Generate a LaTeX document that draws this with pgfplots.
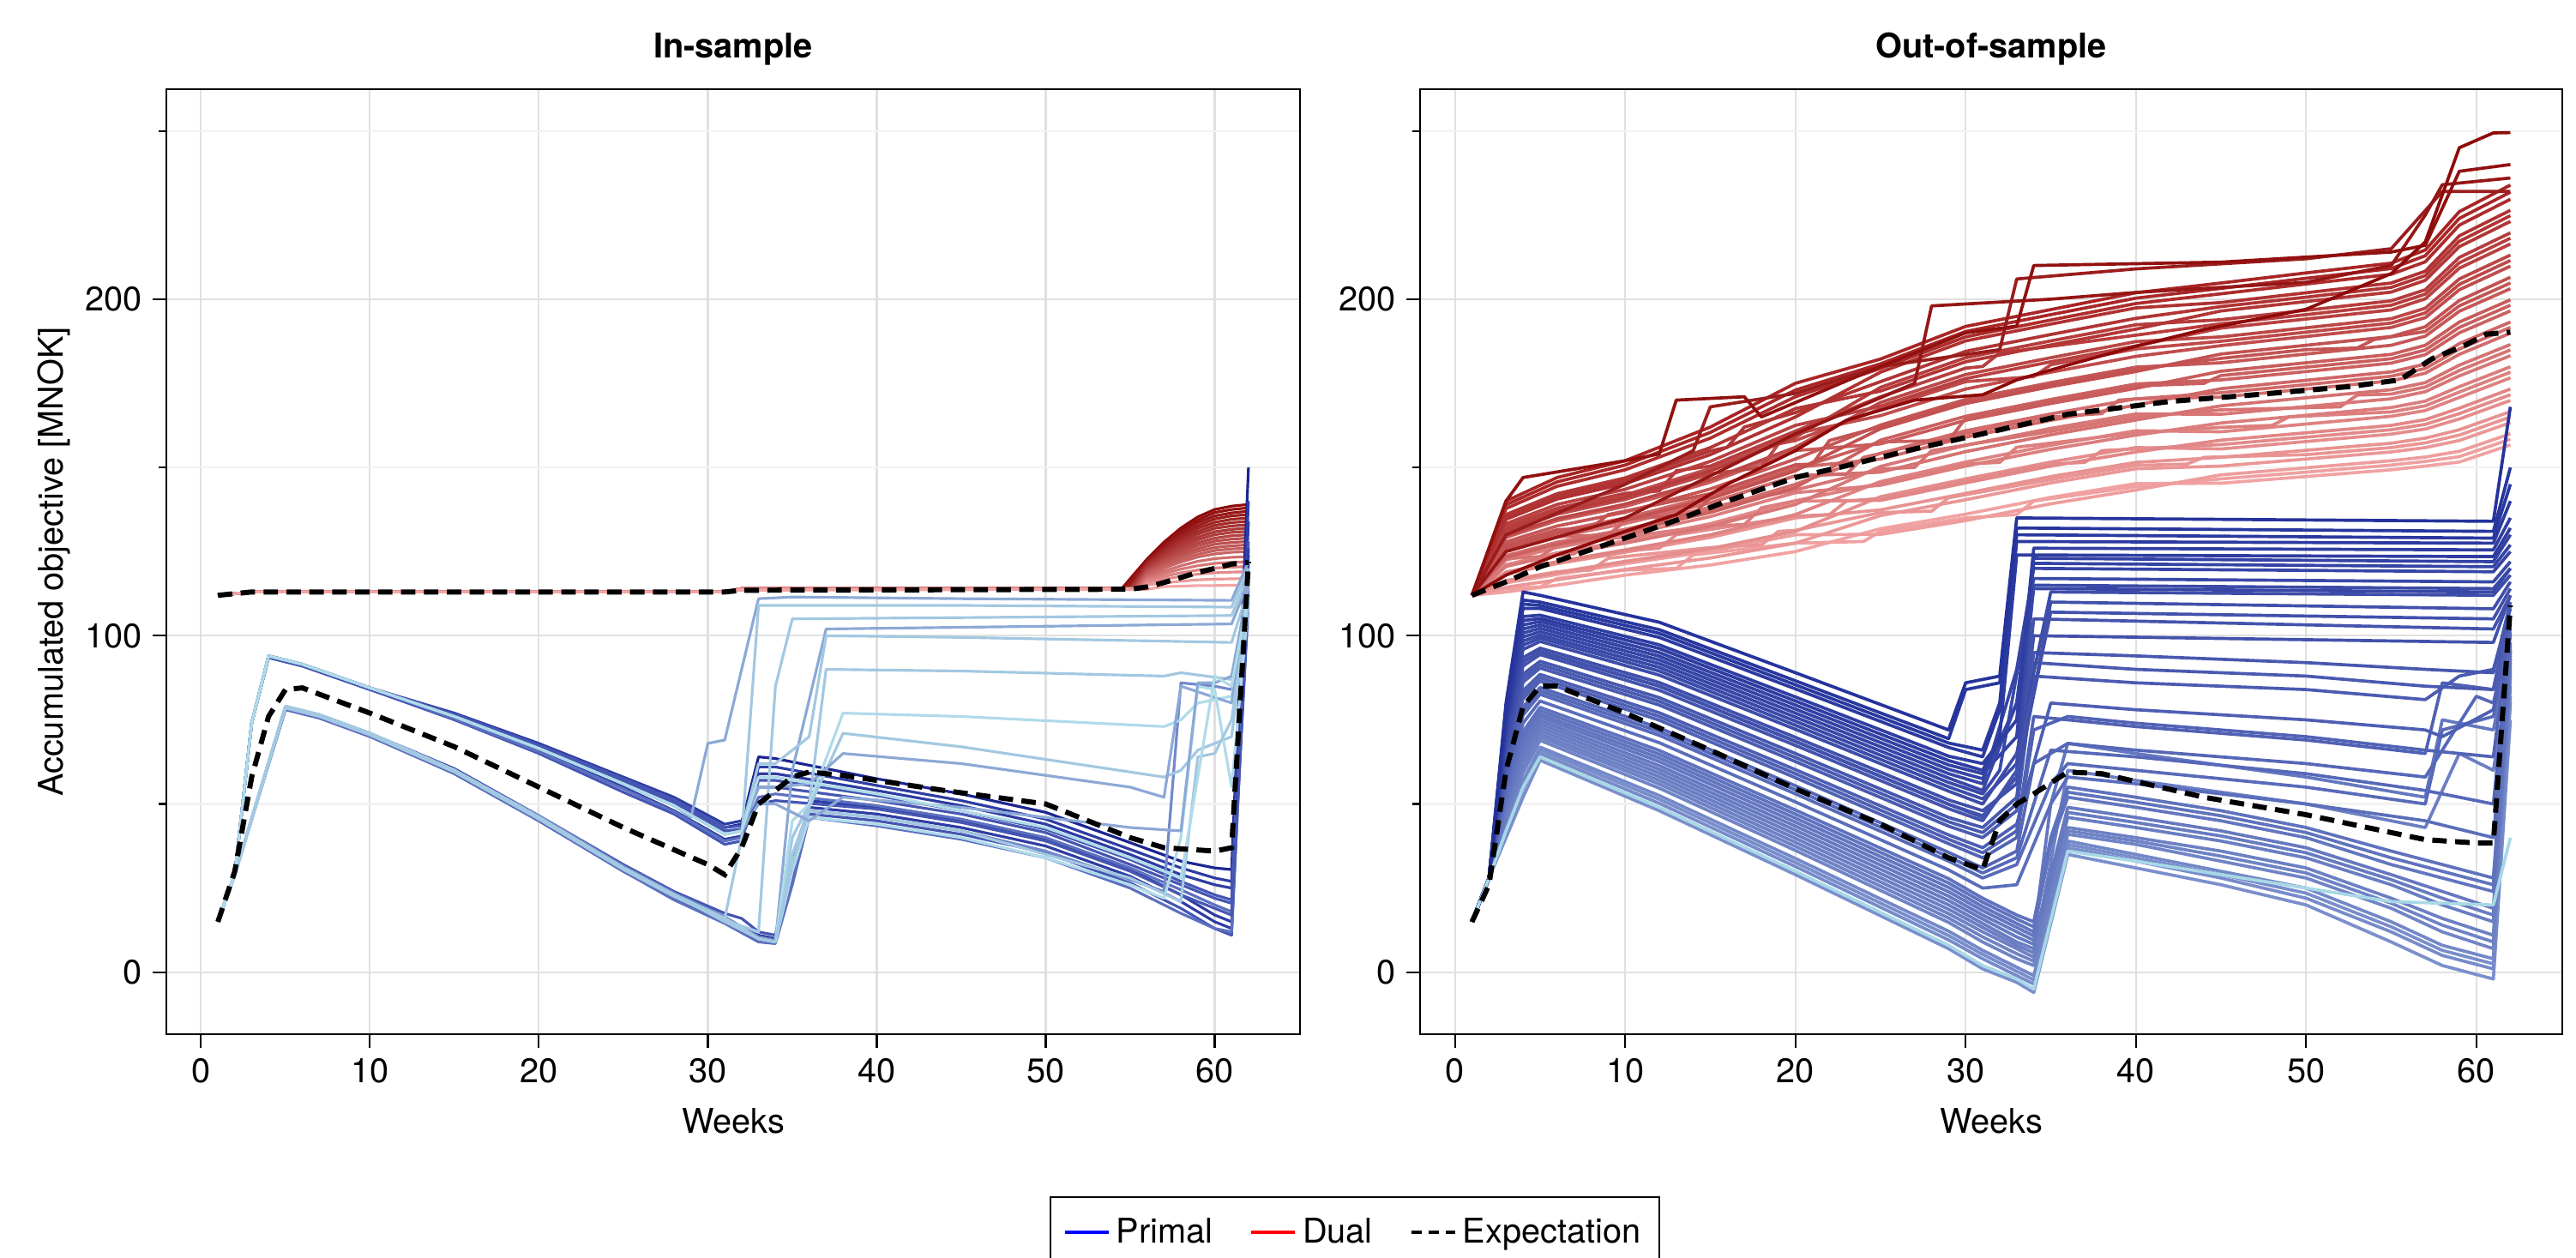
\documentclass[border=0pt]{standalone}
\usepackage{fontspec}
\setmainfont{TeX Gyre Heros}
\usepackage{pgfplots}
\pgfplotsset{compat=1.18}

\newcommand\fs{\fontsize{11.3}{13.5}\selectfont}

\definecolor{gridmaj}{HTML}{E0E0E0}
\definecolor{gridmin}{HTML}{F2F2F2}
% primal shades, dark to light
\definecolor{pA}{HTML}{1C2590}
\definecolor{pB}{HTML}{2E3DA3}
\definecolor{pC}{HTML}{4556B3}
\definecolor{pD}{HTML}{5C70C0}
\definecolor{pE}{HTML}{7389CB}
\definecolor{pF}{HTML}{8CA9D6}
\definecolor{pG}{HTML}{A3C8E1}
\definecolor{pH}{HTML}{B0DBE9}
\definecolor{pdk}{HTML}{25339C}
\definecolor{pmd}{HTML}{7A8FCC}
\definecolor{pcy}{HTML}{A8D8E6}
% dual shades
\definecolor{rdk}{HTML}{8E0A0A}
\definecolor{rmd}{HTML}{A51E1E}
\definecolor{rlt}{HTML}{F3A5A5}
\definecolor{legblue}{HTML}{0000FF}
\definecolor{legred}{HTML}{FF0000}

\pgfplotsset{
  panel/.style={
    scale only axis,
    width=13.22cm, height=11.02cm,
    xmin=-2.05, xmax=65.05, ymin=-18.4, ymax=262.4,
    xtick={0,10,...,60},
    ytick={0,100,200},
    minor ytick={50,150,250},
    grid=both,
    major grid style={gridmaj, line width=0.6pt},
    minor grid style={gridmin, line width=0.6pt},
    tick align=outside,
    tick pos=left,
    major tick length=0.16cm,
    minor tick length=0.09cm,
    every tick/.style={black, line width=0.6pt},
    axis line style={black, line width=0.7pt},
    /pgf/number format/assume math mode=true,
    tick label style={font=\fs},
    label style={font=\fs},
    xlabel={Weeks},
    xlabel style={at={(axis description cs:0.5,-0.0915)}, anchor=center},
    title style={font=\fs\bfseries, at={(axis description cs:0.5,1)}, anchor=center, yshift=0.26cm},
  },
  pl/.style={forget plot, line width=0.9pt, line join=round},
  plr/.style={forget plot, line width=1.05pt, line join=round},
  ex/.style={forget plot, black, line width=1.7pt, dash pattern=on 4.8pt off 2.8pt},
}

\begin{document}
\begin{tikzpicture}
\path[use as bounding box] (0,0) rectangle (30.04,14.67);

% ---------------- In-sample ----------------
\begin{axis}[panel, at={(1.94cm,2.61cm)}, anchor=south west,
    title={In-sample},
    ylabel={Accumulated objective [MNOK]},
    ylabel style={at={(axis description cs:-0.099,0.5)}, anchor=center},
    legend image code/.code={\draw[#1] (0cm,0cm) -- (0.51cm,0cm);},
    legend style={at={(1.0484,-0.1715)}, anchor=north, draw=black, line width=0.7pt,
        legend columns=3, font=\fs, inner xsep=0.15cm, inner ysep=0.17cm,
        /tikz/every even column/.append style={column sep=0.36cm}},
]
\addlegendimage{draw=legblue, line width=1.1pt}
\addlegendentry{Primal}
\addlegendimage{draw=legred, line width=1.1pt}
\addlegendentry{Dual}
\addlegendimage{draw=black, line width=1.1pt, dash pattern=on 3.4pt off 2.4pt}
\addlegendentry{Expectation}

% dual, dark first
\addplot[pl, draw=rdk!100!rlt] coordinates {(1,112)(3,113)(31,113)(32,114)(54.5,114)(56,122.8)(57,127.8)(58,132)(59,135.3)(60,137.5)(61,138.5)(62,139)};
\addplot[pl, draw=rdk!96!rlt] coordinates {(1,112)(3,113)(31,113)(32,114)(54.6,114)(56,122.4)(57,127.2)(58,131.3)(59,134.4)(60,136.6)(61,137.5)(62,138)};
\addplot[pl, draw=rdk!92!rlt] coordinates {(1,112)(3,113)(31,113)(32,114)(54.7,114)(56,122.1)(57,126.7)(58,130.6)(59,133.6)(60,135.6)(61,136.5)(62,137)};
\addplot[pl, draw=rdk!88!rlt] coordinates {(1,112)(3,113)(31,113)(32,114)(54.8,114)(56,121.7)(57,126.1)(58,129.8)(59,132.7)(60,134.7)(61,135.6)(62,136)};
\addplot[pl, draw=rdk!83!rlt] coordinates {(1,112)(3,113)(31,113)(32,114)(55,114)(56,121.4)(57,125.6)(58,129.1)(59,131.9)(60,133.7)(61,134.6)(62,135)};
\addplot[pl, draw=rdk!79!rlt] coordinates {(1,112)(3,113)(31,113)(32,114)(55,114)(56,121)(57,125)(58,128.4)(59,131)(60,132.8)(61,133.6)(62,134)};
\addplot[pl, draw=rdk!75!rlt] coordinates {(1,112)(3,113)(31,113)(32,114)(55,114)(56,120.7)(57,124.5)(58,127.7)(59,130.2)(60,131.9)(61,132.6)(62,133)};
\addplot[pl, draw=rdk!71!rlt] coordinates {(1,112)(3,113)(31,113)(32,114)(55.1,114)(56,120.3)(57,123.9)(58,127)(59,129.3)(60,130.9)(61,131.6)(62,132)};
\addplot[pl, draw=rdk!67!rlt] coordinates {(1,112)(3,113)(31,113)(32,114)(55.1,114)(56,120)(57,123.4)(58,126.2)(59,128.5)(60,130)(61,130.7)(62,131)};
\addplot[pl, draw=rdk!63!rlt] coordinates {(1,112)(3,113)(31,113)(32,114)(55.2,114)(56,119.6)(57,122.8)(58,125.5)(59,127.6)(60,129)(61,129.7)(62,130)};
\addplot[pl, draw=rdk!58!rlt] coordinates {(1,112)(3,113)(31,113)(32,114)(55.2,114)(56,119.3)(57,122.3)(58,124.8)(59,126.8)(60,128.1)(61,128.7)(62,129)};
\addplot[pl, draw=rdk!54!rlt] coordinates {(1,112)(3,113)(31,113)(32,114)(55.3,114)(56,118.9)(57,121.7)(58,124.1)(59,125.9)(60,127.2)(61,127.7)(62,128)};
\addplot[pl, draw=rdk!50!rlt] coordinates {(1,112)(3,113)(31,113)(32,114)(55.3,114)(56,118.6)(57,121.2)(58,123.4)(59,125.1)(60,126.2)(61,126.7)(62,127)};
\addplot[pl, draw=rdk!46!rlt] coordinates {(1,112)(3,113)(31,113)(32,114)(55.4,114)(56,118.2)(57,120.6)(58,122.6)(59,124.2)(60,125.3)(61,125.8)(62,126)};
\addplot[pl, draw=rdk!42!rlt] coordinates {(1,112)(3,113)(31,113)(32,114)(55.4,114)(56,117.9)(57,120.1)(58,121.9)(59,123.4)(60,124.3)(61,124.8)(62,125)};
\addplot[pl, draw=rdk!35!rlt] coordinates {(1,112)(3,113)(31,113)(32,114)(55.5,114)(56,117.3)(57,119.2)(58,120.8)(59,122.1)(60,122.9)(61,123.3)(62,123.5)};
\addplot[pl, draw=rdk!29!rlt] coordinates {(1,112)(3,113)(31,113)(32,114)(55.5,114)(56,116.8)(57,118.4)(58,119.8)(59,120.8)(60,121.5)(61,121.8)(62,122)};
\addplot[pl, draw=rdk!23!rlt] coordinates {(1,112)(3,113)(31,113)(32,114)(55.6,114)(56,116.3)(57,117.6)(58,118.7)(59,119.5)(60,120.1)(61,120.4)(62,120.5)};
\addplot[pl, draw=rdk!17!rlt] coordinates {(1,112)(3,113)(31,113)(32,114)(55.6,114)(56,115.8)(57,116.8)(58,117.6)(59,118.3)(60,118.7)(61,118.9)(62,119)};
\addplot[pl, draw=rdk!8!rlt] coordinates {(1,112)(3,113)(31,113)(32,114)(55.8,114)(56,115.1)(57,115.7)(58,116.2)(59,116.6)(60,116.8)(61,116.9)(62,117)};
\addplot[pl, draw=rdk!0!rlt] coordinates {(1,112)(3,113)(31,113)(32,113.5)(56,113.8)(57,114.6)(58,114.7)(59,114.9)(60,114.9)(61,115)(62,115)};

% primal, dark mass first
\addplot[pl, draw=pA] coordinates {(1,15)(2,29)(3,74)(4,94)(6,91.5)(8,88)(10,84.5)(15,76.5)(20,67.5)(25,57.5)(28,51)(31,43)(32,44)(33,64)(34,63.5)(40,57.5)(45,53)(50,47.5)(55,38.5)(58,33)(60,31)(61,30.5)(62,150)};
\addplot[pl, draw=pB] coordinates {(1,15)(2,29)(3,74)(4,93.5)(6,91)(8,87.5)(10,84)(15,75.5)(20,66)(25,55)(28,48)(31,39.5)(32,40.5)(33,61)(34,61)(40,55.5)(45,51)(50,45.5)(55,36.5)(58,31)(60,28)(61,27)(62,140)};
\addplot[pl, draw=pB] coordinates {(1,15)(2,29)(3,74)(4,94)(6,91.5)(8,88)(10,84.5)(15,77)(20,68)(25,58)(28,52)(31,44)(32,45)(33,59)(34,59)(40,54)(45,49.5)(50,44)(55,35)(58,29)(60,26)(61,25)(62,134)};
\addplot[pl, draw=pC] coordinates {(1,15)(2,29)(3,74)(4,93.5)(6,91)(8,87.5)(10,84)(15,75)(20,65)(25,53.5)(28,47)(31,38)(32,39)(33,57)(34,57)(40,52.5)(45,48)(50,42.5)(55,33.5)(58,27)(60,23)(61,21.5)(62,128)};
\addplot[pl, draw=pC] coordinates {(1,15)(2,29)(3,74)(4,94)(6,91.5)(8,88)(10,84.5)(15,76.3)(20,67)(25,56.8)(28,50.4)(31,42)(32,42.5)(33,55)(34,55)(40,51)(45,47)(50,41.5)(55,32)(58,26)(60,22)(61,20.5)(62,124)};
\addplot[pl, draw=pB] coordinates {(1,15)(2,29)(5,79)(7,76.5)(10,71)(15,60)(20,46)(25,31)(28,23)(31,16)(33,10)(34,9)(35,30)(36,51)(40,49)(45,45)(50,39.5)(55,30.5)(58,23)(60,17)(61,15)(62,126)};
\addplot[pl, draw=pB] coordinates {(1,15)(2,29)(5,78.5)(7,76)(10,70.5)(15,59)(20,45)(25,30)(28,22)(31,15)(33,11)(34,10)(35,28)(36,49)(40,47)(45,43)(50,37.5)(55,28.5)(58,21)(60,15)(61,13)(62,122)};
\addplot[pl, draw=pC] coordinates {(1,15)(2,29)(5,79)(7,76.5)(10,71)(15,60.5)(20,46.5)(25,32)(28,24)(31,17.5)(32,16)(33,12)(34,11)(35,34)(36,47)(40,45)(45,41)(50,35.5)(55,26.5)(58,19)(60,13)(61,11)(62,118)};
\addplot[pl, draw=pD] coordinates {(1,15)(2,29)(5,78)(7,75.5)(10,70)(15,59)(20,45)(25,30)(28,21.5)(31,14.5)(33,9)(34,8.5)(35,26)(36,46)(40,43.5)(45,39.5)(50,34)(55,25)(58,17.5)(60,13)(61,12)(62,114)};
\addplot[pl, draw=pD] coordinates {(1,15)(2,29)(3,74)(4,94)(6,91.5)(8,88)(10,84.5)(15,75.3)(20,65.5)(25,54.5)(28,47.7)(31,39)(32,40)(33,52)(34,53)(40,49.5)(45,45.5)(50,40)(55,31)(58,24.5)(60,20)(61,18)(62,112)};
\addplot[pl, draw=pC] coordinates {(1,15)(2,29)(3,74)(4,94)(6,91.5)(8,88)(10,84.5)(15,76.7)(20,67.5)(25,57.5)(28,51.3)(31,43)(32,43.5)(33,50)(34,51)(40,48.5)(45,44.5)(50,39)(55,30)(58,23)(60,19)(61,17)(62,110)};
% primal, light lines on top
\addplot[pl, draw=pE] coordinates {(1,15)(2,29)(5,79)(7,76.5)(10,71)(15,60)(20,46.5)(25,31.5)(28,23.5)(31,16.5)(33,10.5)(34,9.5)(35,30)(36,48)(40,46)(45,42)(50,36)(55,27.5)(57,24)(58,86)(60,85)(61,84)(62,112)};
\addplot[pl, draw=pF] coordinates {(1,15)(2,29)(3,74)(4,94)(6,91.5)(8,88)(10,84.5)(15,76)(20,66.5)(25,56)(28,49.5)(29,46)(30,68)(31,69)(33,111)(35,111.5)(45,111)(61,110.5)(62,122)};
\addplot[pl, draw=pG] coordinates {(1,15)(2,29)(5,79)(7,76.5)(10,71)(15,60)(20,46)(25,31)(28,23)(31,16)(32,40)(33,109)(45,109)(61,108.5)(62,120)};
\addplot[pl, draw=pG] coordinates {(1,15)(2,29)(5,78.5)(7,76)(10,70.5)(15,59.5)(20,45.5)(25,30.5)(28,22.5)(31,15.5)(33,12)(34,85)(35,105)(61,106)(62,118)};
\addplot[pl, draw=pF] coordinates {(1,15)(2,29)(5,79)(7,76.5)(10,71)(15,60)(20,46)(25,31)(28,23)(31,16)(33,10)(34,9)(35,60)(37,102)(61,103.5)(62,116)};
\addplot[pl, draw=pG] coordinates {(1,15)(2,29)(3,74)(4,94)(6,91.5)(8,88)(10,84.5)(15,76)(20,66.5)(25,56)(28,49.5)(31,41)(32,42)(33,62)(34,62)(36,70)(37,100)(45,99.5)(61,98)(62,114)};
\addplot[pl, draw=pG] coordinates {(1,15)(2,29)(5,79)(7,76.5)(10,71)(15,60)(20,46)(25,31)(28,23)(31,16)(33,10)(34,9)(35,40)(36,50)(37,90)(45,89.5)(57,88)(58,89)(61,87)(62,112)};
\addplot[pl, draw=pH] coordinates {(1,15)(2,29)(5,79)(7,76.5)(10,71)(15,60)(20,46)(25,31)(28,23)(31,16)(33,10)(34,9)(35,45)(36,50)(38,77)(45,76)(57,73)(58,75)(59,80)(61,82)(62,110)};
\addplot[pl, draw=pG] coordinates {(1,15)(2,29)(5,79)(7,76.5)(10,71)(15,60)(20,46)(25,31)(28,23)(31,15)(33,10)(34,9)(35,35)(36,49)(38,71)(45,67)(57,58)(58,60)(59,66)(61,70)(62,110)};
\addplot[pl, draw=pF] coordinates {(1,15)(2,29)(3,74)(4,94)(6,91.5)(8,88)(10,84.5)(15,76)(20,66.5)(25,56)(28,49.5)(31,41)(32,42)(33,55)(34,55)(36,56)(38,65)(45,62)(55,55)(57,52)(58,85)(61,80)(62,112)};
\addplot[pl, draw=pH] coordinates {(1,15)(2,29)(5,79)(7,76.5)(10,71)(15,60)(20,46)(25,31)(28,23)(31,16)(33,10)(34,9)(35,30)(36,46)(40,44)(45,40)(50,34)(55,26)(57,22)(58,40)(59,85)(60,84)(61,55)(62,110)};
\addplot[pl, draw=pG] coordinates {(1,15)(2,29)(5,79)(7,76.5)(10,71)(15,60)(20,46)(25,31)(28,23)(31,16)(33,10)(34,9)(35,32)(36,48)(40,46)(45,42)(55,28)(58,21)(59,64)(60,65)(61,75)(62,110)};
\addplot[pl, draw=pF] coordinates {(1,15)(2,29)(3,74)(4,94)(6,91.5)(8,88)(10,84.5)(15,76)(20,66.5)(25,56)(28,49.5)(31,41)(32,42)(33,50)(34,50)(36,45)(38,52)(45,49)(55,43)(58,42)(59,86)(60,86)(61,88)(62,115)};
\addplot[pl, draw=pH] coordinates {(1,15)(2,29)(3,74)(4,94)(6,91.5)(8,88)(10,84.5)(15,76)(20,66.5)(25,56)(28,49.5)(31,41)(32,42)(33,58)(34,58)(40,53)(50,43)(55,34)(58,28)(60,88)(61,85)(62,112)};

% expectations
\addplot[ex] coordinates {(1,112)(3,113)(31,113)(32,113.5)(55,113.8)(56,114.5)(57,115.8)(58,117.3)(59,118.8)(60,120)(61,121.3)(62,121.8)};
\addplot[ex] coordinates {(1,15)(2,30)(3,58)(4,76)(5,84)(6,84.5)(10,77)(15,67)(20,55)(25,43)(30,32)(31,29)(32,37)(33,50)(35,58)(36,59.5)(38,58.5)(44,54)(50,50)(55,40)(57,37)(60,36)(61,37)(62,122)};
\end{axis}

% ---------------- Out-of-sample ----------------
\begin{axis}[panel, at={(16.56cm,2.61cm)}, anchor=south west, width=13.32cm,
    title={Out-of-sample}]

% dual
\addplot[plr, draw=rmd!2!rlt] coordinates {(1,112)(3,113)(6,115)(10,118)(15,121)(20,125)(25,131.8)(30,136.1)(35,141.1)(40,145.2)(45,145.3)(50,147.3)(55,149.3)(57,150.4)(59,151.6)(62,156.7)};
\addplot[plr, draw=rmd!4!rlt] coordinates {(1,112)(3,114)(5,114.5)(6,117)(10,119.5)(13,120)(14,124)(20,127.5)(24,128)(25,131)(30,135)(33,136)(34,140)(40,144.3)(45,146.6)(50,148.6)(55,150.7)(57,151.8)(59,153.2)(62,158.4)};
\addplot[plr, draw=rmd!6!rlt] coordinates {(1,112)(3,115.7)(6,118.2)(10,121.4)(15,125.1)(20,130)(25,130.1)(30,134.2)(35,139.2)(40,143.3)(45,147.8)(50,149.9)(55,152)(57,153.1)(59,154.8)(62,160)};
\addplot[plr, draw=rmd!10!rlt] coordinates {(1,112)(3,114.4)(6,116.6)(10,119.7)(15,123.1)(20,127.5)(25,135.7)(30,140.4)(35,145.4)(40,149.6)(45,150.4)(50,152.5)(55,154.6)(57,155.9)(59,158)(62,163.3)};
\addplot[plr, draw=rmd!12!rlt] coordinates {(1,112)(3,116.4)(6,119)(8,119.5)(9,123)(15,126.2)(18,127)(19,131)(20,131.3)(25,136.6)(28,137)(29,141)(35,146.4)(40,150.6)(43,151)(44,153)(50,153.8)(55,155.9)(57,157.3)(59,159.6)(62,165)};
\addplot[plr, draw=rmd!14!rlt] coordinates {(1,112)(3,118.4)(6,121.4)(10,124.8)(15,129.2)(20,135)(25,137.4)(30,142.3)(35,147.3)(40,151.5)(45,153)(50,155.1)(55,157.2)(57,158.7)(59,161.2)(62,166.6)};
\addplot[plr, draw=rmd!18!rlt] coordinates {(1,112)(3,116.2)(6,118.8)(10,122.1)(15,125.9)(20,131)(25,141.3)(30,146.6)(35,151.6)(40,155.9)(45,155.5)(50,157.7)(55,159.9)(57,161.4)(59,164.4)(62,169.9)};
\addplot[plr, draw=rmd!20!rlt] coordinates {(1,112)(3,118.7)(6,121.7)(10,125.2)(12,126)(13,130)(20,135.5)(22,136)(23,140)(25,140.8)(30,146)(35,151)(37,151.5)(38,155)(45,156.8)(50,159)(55,161.2)(57,162.8)(59,166)(62,171.6)};
\addplot[plr, draw=rmd!22!rlt] coordinates {(1,112)(3,121.1)(6,124.6)(10,128.2)(15,133.3)(20,140)(25,140.2)(30,145.4)(35,150.4)(40,154.6)(45,158.1)(50,160.3)(55,162.5)(57,164.2)(59,167.6)(62,173.3)};
\addplot[plr, draw=rmd!26!rlt] coordinates {(1,112)(3,118.9)(6,122)(10,125.5)(15,130)(20,136)(25,145.8)(30,151.6)(35,156.6)(40,160.9)(45,160.6)(50,162.9)(55,165.2)(57,166.9)(59,170.8)(62,176.6)};
\addplot[plr, draw=rmd!28!rlt] coordinates {(1,112)(3,120.7)(6,124.1)(7,124.3)(8,128)(15,132.7)(17,133)(18,138)(25,145.3)(30,151)(32,151.5)(33,156)(40,160.3)(45,161.9)(48,162.5)(49,165)(55,166.5)(57,168.3)(59,172.4)(62,178.3)};
\addplot[plr, draw=rmd!30!rlt] coordinates {(1,112)(3,122.5)(6,126.2)(10,129.9)(15,135.4)(20,142.5)(25,144.7)(30,150.4)(35,155.4)(40,159.6)(45,163.2)(50,165.5)(55,167.8)(57,169.7)(59,174)(62,179.9)};
\addplot[plr, draw=rmd!34!rlt] coordinates {(1,112)(3,120.6)(6,124)(10,127.5)(15,132.5)(20,139)(25,150.3)(30,156.6)(35,161.6)(40,165.9)(45,165.8)(50,168.1)(55,170.4)(57,172.5)(59,177.2)(62,183.2)};
\addplot[plr, draw=rmd!36!rlt] coordinates {(1,112)(3,122.9)(5,123.5)(6,126.7)(10,130.4)(11,131)(12,135)(20,143.3)(25,149.5)(27,150)(28,155)(35,160.7)(40,165)(45,167.1)(52,168)(53,171.5)(55,171.8)(57,173.9)(59,178.8)(62,184.9)};
\addplot[plr, draw=rmd!38!rlt] coordinates {(1,112)(3,125.2)(6,129.4)(10,133.3)(15,139.5)(20,147.5)(25,148.6)(30,154.7)(35,159.7)(40,164.1)(45,168.3)(50,170.7)(55,173.1)(57,175.2)(59,180.4)(62,186.5)};
\addplot[plr, draw=rmd!42!rlt] coordinates {(1,112)(3,123.8)(6,127.8)(10,131.6)(15,137.4)(20,145)(25,154.2)(30,160.9)(35,165.9)(40,170.4)(45,170.9)(50,173.3)(55,175.7)(57,178)(59,183.6)(62,189.9)};
\addplot[plr, draw=rmd!44!rlt] coordinates {(1,112)(3,125.2)(6,129.4)(9,130)(10,134)(15,139.5)(20,147.5)(23,148)(24,153)(30,160)(35,165)(38,166)(39,170)(45,172.2)(50,174.6)(55,177.1)(57,179.4)(59,185.2)(62,191.6)};
\addplot[plr, draw=rmd!46!rlt] coordinates {(1,112)(3,126.5)(6,131)(10,135)(15,141.5)(20,150)(25,152.5)(30,159)(35,164)(40,168.5)(45,173.4)(50,175.9)(55,178.4)(57,180.7)(59,186.8)(62,193.2)};
\addplot[plr, draw=rmd!50!rlt] coordinates {(1,112)(3,123.3)(6,127.2)(10,130.9)(15,136.6)(20,144)(25,158.1)(30,165.2)(35,170.2)(40,174.8)(45,176)(50,178.5)(55,181)(57,183.5)(59,190)(62,196.5)};
\addplot[plr, draw=rmd!52!rlt] coordinates {(1,112)(3,126.3)(6,130.7)(10,134.7)(14,136)(15,141.1)(20,149.5)(25,157.6)(29,158)(30,164.6)(35,169.6)(40,174.2)(44,175)(45,177.3)(50,179.8)(55,182.3)(57,184.9)(59,191.6)(62,198.2)};
\addplot[plr, draw=rmd!54!rlt] coordinates {(1,112)(3,129.2)(6,134.2)(10,138.4)(15,145.6)(20,155)(25,157)(30,164)(35,169)(40,173.5)(45,178.6)(50,181.1)(55,183.6)(57,186.3)(59,193.2)(62,199.8)};
\addplot[plr, draw=rmd!58!rlt] coordinates {(1,112)(3,127.9)(6,132.6)(10,136.7)(15,143.6)(20,152.5)(25,162.6)(30,170.2)(35,175.2)(40,179.8)(45,181.1)(50,183.7)(55,186.3)(57,189)(59,196.4)(62,203.1)};
\addplot[plr, draw=rmd!60!rlt] coordinates {(1,112)(3,127)(6,131.5)(8,132)(9,136)(15,142.2)(20,150.8)(21,151)(22,158)(25,162.1)(30,169.6)(35,174.6)(40,179.2)(45,182.4)(50,185)(53,185.5)(54,188)(57,190.4)(59,198)(62,204.8)};
\addplot[plr, draw=rmd!62!rlt] coordinates {(1,112)(3,126)(6,130.4)(10,134.3)(15,140.7)(20,149)(25,161.5)(30,169)(35,174)(40,178.5)(45,183.7)(50,186.3)(55,188.9)(57,191.8)(59,199.6)(62,206.5)};
\addplot[plr, draw=rmd!66!rlt] coordinates {(1,112)(3,131.9)(6,137.4)(10,141.8)(15,149.7)(20,160)(25,165.4)(30,173.3)(35,178.3)(40,183)(45,186.2)(50,188.9)(55,191.6)(57,194.5)(59,202.8)(62,209.8)};
\addplot[plr, draw=rmd!68!rlt] coordinates {(1,112)(3,130.8)(6,136.1)(10,140.5)(15,148.1)(18,150)(19,157)(20,158)(25,167.4)(30,175.5)(34,177)(35,180.5)(40,185.2)(45,187.5)(50,190.2)(55,192.9)(57,195.9)(59,204.4)(62,211.5)};
\addplot[plr, draw=rmd!70!rlt] coordinates {(1,112)(3,129.7)(6,134.8)(10,139.1)(15,146.4)(20,156)(25,169.3)(30,177.6)(35,182.6)(40,187.4)(45,188.8)(50,191.5)(55,194.2)(57,197.3)(59,206)(62,213.1)};
\addplot[plr, draw=rmd!74!rlt] coordinates {(1,112)(3,133.3)(6,139)(10,143.5)(15,151.8)(20,162.5)(25,168.2)(30,176.4)(35,181.4)(40,186.1)(45,191.4)(50,194.1)(55,196.8)(57,200.1)(59,209.2)(62,216.4)};
\addplot[plr, draw=rmd!76!rlt] coordinates {(1,112)(3,132.4)(6,137.9)(10,142.3)(12,143)(13,149)(15,150.4)(20,160.8)(25,171)(30,179.5)(31,180)(32,184)(40,189.3)(45,192.7)(50,195.4)(55,198.2)(57,201.5)(59,210.8)(62,218.1)};
\addplot[plr, draw=rmd!78!rlt] coordinates {(1,112)(3,131.4)(6,136.8)(10,141.1)(15,148.9)(20,159)(25,173.8)(30,182.6)(35,187.6)(40,192.4)(45,193.9)(50,196.7)(55,199.5)(57,202.8)(59,212.4)(62,219.7)};
\addplot[plr, draw=rmd!82!rlt] coordinates {(1,112)(3,136)(6,142.2)(10,146.9)(15,155.9)(20,167.5)(25,172.7)(30,181.4)(35,186.4)(40,191.1)(45,196.5)(50,199.3)(55,202.1)(57,205.6)(59,215.6)(62,223.1)};
\addplot[plr, draw=rmd!84!rlt] coordinates {(1,112)(3,135.3)(6,141.4)(10,146.1)(15,154.9)(16,156)(17,162)(20,166.3)(25,175.5)(30,184.5)(35,189.5)(40,194.3)(45,197.8)(50,200.6)(55,203.5)(57,207)(59,217.2)(62,224.8)};
\addplot[plr, draw=rmd!86!rlt] coordinates {(1,112)(3,134.6)(6,140.6)(10,145.2)(15,153.8)(20,165)(25,178.3)(30,187.6)(35,192.6)(40,197.4)(45,199)(50,201.9)(55,204.8)(57,208.3)(59,218.8)(62,226.4)};
\addplot[plr, draw=rmd!90!rlt] coordinates {(1,112)(3,137.8)(6,144.4)(10,149.3)(15,158.7)(20,171)(25,179.4)(30,188.8)(35,193.8)(40,198.7)(45,201.6)(50,204.5)(55,207.4)(57,211.1)(59,222)(62,229.7)};
\addplot[plr, draw=rmd!93!rlt] coordinates {(1,112)(3,138.9)(6,145.7)(10,150.7)(15,160.4)(20,173)(25,180.8)(30,190.4)(35,195.4)(40,200.3)(45,203.2)(50,206.2)(55,209.1)(57,212.9)(59,224)(62,231.8)};
\addplot[plr, draw=rmd!95!rlt] coordinates {(1,112)(3,140)(6,147)(10,152)(15,162)(20,175)(25,182.2)(30,191.9)(35,196.9)(40,201.9)(45,204.8)(50,207.8)(55,210.7)(57,214.6)(59,226)(62,233.9)};
\addplot[plr, draw=rdk!88!rlt] coordinates {(1,112)(3,130)(10,145)(14,155)(15,168)(20,172)(25,180)(32,185)(33,206)(40,209)(50,212)(55,215)(58,232)(62,232)};
\addplot[plr, draw=rdk!92!rlt] coordinates {(1,112)(3,125)(10,135)(20,160)(27,175)(28,198)(35,200)(40,202)(50,205)(55,210)(57,225)(58,234)(62,236)};
\addplot[plr, draw=rdk!96!rlt] coordinates {(1,112)(3,140)(4,147)(10,152)(12,154)(13,170)(17,171)(18,165)(25,180)(30,190)(33,192)(34,210)(45,211)(55,214)(57,216)(59,238)(62,240)};
\addplot[plr, draw=rdk] coordinates {(1,112)(3,118)(6,124)(10,131)(13,136)(16,145)(20,155)(23,164)(27,170)(31,171.6)(33,176)(36,180.4)(40,186)(44,191)(50,197)(55,207.6)(57,217)(59,245)(61,249.4)(62,249.5)};

% primal
\addplot[plr, draw=pdk!0!pmd] coordinates {(1,15)(2,28)(3,40)(4,52)(5,63)(12,48)(20,29)(29,7)(31,1)(33,-3)(34,-6)(36,35)(40,31)(45,26)(50,20)(55,9)(58,2)(61,-2)(62,75)};
\addplot[plr, draw=pdk!2!pmd] coordinates {(1,15)(2,28)(3,42.4)(4,55.7)(5,66)(12,51.4)(20,32.6)(29,10.9)(31,5.3)(33,0.3)(34,-2.3)(36,38)(40,34)(45,29)(50,23.5)(55,13.5)(58,6.5)(61,2.5)(62,82)};
\addplot[plr, draw=pdk!4!pmd] coordinates {(1,15)(2,28)(3,41.6)(4,54.4)(5,65)(12,50.2)(20,31.4)(29,9.6)(31,4)(33,-1)(34,-3.5)(36,37)(40,33)(45,28)(50,22)(55,12)(58,5)(61,1)(62,80)};
\addplot[plr, draw=pdk!8!pmd] coordinates {(1,15)(2,28)(3,43.2)(4,56.9)(5,66.9)(12,52.5)(20,33.8)(29,12.2)(31,6.5)(33,1.5)(34,-1)(36,39)(40,35)(45,30)(50,25)(55,15)(58,8)(61,4)(62,85)};
\addplot[plr, draw=pdk!12!pmd] coordinates {(1,15)(2,28)(3,44.8)(4,59.3)(5,68.9)(12,54.7)(20,36.2)(29,14.8)(31,9)(33,4)(34,2)(36,41)(40,38)(45,33)(50,28)(55,19)(58,12)(61,7)(62,88)};
\addplot[plr, draw=pdk!14!pmd] coordinates {(1,15)(2,28)(3,45.6)(4,60.6)(5,69.9)(12,55.9)(20,37.4)(29,16.1)(31,10.5)(33,5.5)(34,3.3)(36,42)(40,39)(45,34.5)(50,29.5)(55,20.5)(58,14)(61,9)(62,89)};
\addplot[plr, draw=pdk!16!pmd] coordinates {(1,15)(2,28)(3,46.4)(4,61.8)(5,70.8)(12,57)(20,38.6)(29,17.4)(31,12)(33,7)(34,4.5)(36,43)(40,40)(45,36)(50,31)(55,22)(58,16)(61,11)(62,90)};
\addplot[plr, draw=pdk!18!pmd] coordinates {(1,15)(2,28)(3,47.2)(4,63)(5,71.8)(12,58.1)(20,39.8)(29,18.7)(31,13.3)(33,8)(34,5.8)(36,60)(40,57)(50,50)(57,43)(59,65)(61,60)(62,91)};
\addplot[plr, draw=pdk!20!pmd] coordinates {(1,15)(2,28)(3,48)(4,64.2)(5,72.8)(12,59.2)(20,41)(29,20)(31,14.5)(33,9)(34,7)(36,46)(40,43)(45,39)(50,34)(55,26)(58,20)(61,15)(62,92)};
\addplot[plr, draw=pdk!22!pmd] coordinates {(1,15)(2,28)(3,48.8)(4,65.4)(5,73.8)(12,60.3)(20,42.2)(29,21.3)(31,15.8)(33,10.5)(34,8.3)(36,47.5)(40,44.5)(45,40.5)(50,35.5)(55,27.5)(58,22)(61,17)(62,93)};
\addplot[plr, draw=pdk!24!pmd] coordinates {(1,15)(2,28)(3,49.6)(4,66.6)(5,74.8)(12,61.4)(20,43.4)(29,22.6)(31,17)(33,12)(34,9.5)(36,49)(40,46)(45,42)(50,37)(55,29)(58,24)(61,19)(62,94)};
\addplot[plr, draw=pdk!26!pmd] coordinates {(1,15)(2,28)(3,50.4)(4,67.9)(5,75.8)(12,62.6)(20,44.6)(29,23.9)(31,18.3)(33,13.3)(34,10.8)(35,50)(36,68)(40,65)(50,58)(57,52)(58,75)(61,72)(62,97)};
\addplot[plr, draw=pdk!28!pmd] coordinates {(1,15)(2,28)(3,51.2)(4,69.1)(5,76.7)(12,63.7)(20,45.8)(29,25.2)(31,19.5)(33,14.5)(34,12)(35,38)(36,52)(40,49)(45,45)(50,40)(55,32)(58,28)(61,24)(62,95)};
\addplot[plr, draw=pdk!30!pmd] coordinates {(1,15)(2,28)(3,52)(4,70.3)(5,77.7)(12,64.8)(20,47)(29,26.5)(31,20.8)(33,15.8)(34,13.5)(35,39)(36,53.5)(40,50.5)(45,46.5)(50,41.5)(55,34)(58,30)(61,26)(62,95.5)};
\addplot[plr, draw=pdk!32!pmd] coordinates {(1,15)(2,28)(3,52.8)(4,71.5)(5,78.7)(12,65.9)(20,48.2)(29,27.8)(31,22)(33,17)(34,15)(35,40)(36,55)(40,52)(45,48)(50,43)(55,36)(58,32)(61,28)(62,96)};
\addplot[plr, draw=pdk!36!pmd] coordinates {(1,15)(2,28)(3,54.4)(4,74)(5,80.6)(12,68.2)(20,50.6)(29,30.4)(31,25)(33,26)(35,50)(36,58)(40,56)(50,50)(57,45)(61,40)(62,98)};
\addplot[plr, draw=pdk!40!pmd] coordinates {(1,15)(2,28)(3,56)(4,76.4)(5,82.6)(12,70.4)(20,53)(29,33)(31,28)(33,32)(35,56)(36,62)(40,60)(50,55)(57,50)(58,72)(61,76)(62,100)};
\addplot[plr, draw=pdk!42!pmd] coordinates {(1,15)(2,28)(3,56.8)(4,77.6)(5,83.6)(12,71.5)(20,54.2)(29,34.3)(31,29.5)(33,34)(35,66)(40,64)(50,59)(57,54)(61,50)(62,101)};
\addplot[plr, draw=pdk!44!pmd] coordinates {(1,15)(2,28)(3,57.6)(4,78.8)(5,84.6)(12,72.6)(20,55.4)(29,35.6)(31,31)(33,36)(34,62)(36,68)(40,66)(50,62)(57,58)(60,82)(61,80)(62,102)};
\addplot[plr, draw=pdk!48!pmd] coordinates {(1,15)(2,28)(3,59.2)(4,81.3)(5,86.5)(12,74.9)(20,57.8)(29,38.2)(31,34)(33,40)(34,72)(36,76)(40,74)(50,70)(57,66)(61,64)(62,104)};
\addplot[plr, draw=pdk!50!pmd] coordinates {(1,15)(2,28)(3,60)(4,82.5)(5,87.5)(12,76)(20,59)(29,39.5)(31,35.5)(33,42)(34,76)(40,73)(50,69)(57,65)(58,86)(61,84)(62,105)};
\addplot[plr, draw=pdk!52!pmd] coordinates {(1,15)(2,28)(3,60.8)(4,83.7)(5,88.5)(12,77.1)(20,60.2)(29,40.8)(31,37)(33,44)(35,80)(40,78)(50,75)(57,72)(58,70)(61,78)(62,106)};
\addplot[plr, draw=pdk!56!pmd] coordinates {(1,15)(2,28)(3,62.4)(4,86.2)(5,90.4)(12,79.4)(20,62.6)(29,43.4)(31,40)(33,48)(34,88)(40,86)(50,84)(57,81)(59,88)(61,90)(62,108)};
\addplot[plr, draw=pdk!58!pmd] coordinates {(1,15)(2,28)(3,63.2)(4,87.4)(5,91.4)(12,80.5)(20,63.8)(29,44.7)(31,41.5)(33,50)(34,92)(40,90)(50,88)(57,85)(61,84)(62,109)};
\addplot[plr, draw=pdk!60!pmd] coordinates {(1,15)(2,28)(3,64)(4,88.6)(5,92.4)(12,81.6)(20,65)(29,46)(31,43)(33,52)(34,95)(40,94)(50,92)(57,90)(61,89)(62,110)};
\addplot[plr, draw=pdk!64!pmd] coordinates {(1,15)(2,28)(3,65.6)(4,91)(5,94.4)(12,83.8)(20,67.4)(29,48.6)(31,45)(33,60)(34,105)(61,102)(62,112)};
\addplot[plr, draw=pdk!66!pmd] coordinates {(1,15)(2,28)(3,66.4)(4,92.3)(5,95.3)(12,85)(20,68.6)(29,49.9)(31,46)(33,58)(34,100)(61,98)(62,112)};
\addplot[plr, draw=pdk!67!pmd] coordinates {(1,15)(2,28)(3,66.4)(4,92.3)(5,95.3)(12,85)(20,68.6)(29,49.9)(31,46.5)(33,58)(35,107)(61,105)(62,114)};
\addplot[plr, draw=pdk!68!pmd] coordinates {(1,15)(2,28)(3,67.2)(4,93.5)(5,96.3)(12,86.1)(20,69.8)(29,51.2)(31,48)(33,56)(35,110)(61,108)(62,116)};
\addplot[plr, draw=pdk!72!pmd] coordinates {(1,15)(2,28)(3,68.8)(4,95.9)(5,98.3)(12,88.3)(20,72.2)(29,53.8)(31,50)(33,65)(35,113)(61,112)(62,118)};
\addplot[plr, draw=pdk!74!pmd] coordinates {(1,15)(2,28)(3,69.6)(4,97.2)(5,99.3)(12,89.5)(20,73.4)(29,55.1)(31,51.5)(33,62)(34,115)(61,114)(62,120)};
\addplot[plr, draw=pdk!76!pmd] coordinates {(1,15)(2,28)(3,70.4)(4,98.4)(5,100.2)(12,90.6)(20,74.6)(29,56.4)(31,53)(32,60)(34,117)(61,116)(62,122)};
\addplot[plr, draw=pdk!78!pmd] coordinates {(1,15)(2,28)(3,71.2)(4,99.6)(5,101.2)(12,91.7)(20,75.8)(29,57.7)(31,54)(33,80)(34,114)(61,113)(62,120)};
\addplot[plr, draw=pdk!80!pmd] coordinates {(1,15)(2,28)(3,72)(4,100.8)(5,102.2)(12,92.8)(20,77)(29,59)(31,56)(33,90)(34,120)(61,119)(62,125)};
\addplot[plr, draw=pdk!82!pmd] coordinates {(1,15)(2,28)(3,72.8)(4,102)(5,103.2)(12,93.9)(20,78.2)(29,60.3)(31,57.5)(33,80)(34,121.5)(61,120.5)(62,127)};
\addplot[plr, draw=pdk!84!pmd] coordinates {(1,15)(2,28)(3,73.6)(4,103.2)(5,104.2)(12,95)(20,79.4)(29,61.6)(31,59)(33,70)(34,123)(61,122)(62,130)};
\addplot[plr, draw=pdk!88!pmd] coordinates {(1,15)(2,28)(3,75.2)(4,105.7)(5,106.1)(12,97.3)(20,81.8)(29,64.2)(31,62)(33,75)(34,126)(61,125.5)(62,135)};
\addplot[plr, draw=pdk!90!pmd] coordinates {(1,15)(2,28)(3,74.4)(4,104.5)(5,105.1)(12,96.2)(20,80.6)(29,62.9)(31,60)(32,70)(33,124)(61,123.5)(62,132)};
\addplot[plr, draw=pdk!92!pmd] coordinates {(1,15)(2,28)(3,76.8)(4,108.1)(5,108.1)(12,99.5)(20,84.2)(29,66.8)(31,64)(32,78)(33,128)(61,127.5)(62,140)};
\addplot[plr, draw=pdk!94!pmd] coordinates {(1,15)(2,28)(3,77.6)(4,109.4)(5,109)(12,100.7)(20,85.4)(29,68.1)(31,66)(32,80)(33,130)(61,129)(62,145)};
\addplot[plr, draw=pdk!96!pmd] coordinates {(1,15)(2,28)(3,78.4)(4,110.6)(5,110)(12,101.8)(20,86.6)(29,69.4)(30,84)(32,86)(33,132)(61,131)(62,150)};
\addplot[plr, draw=pdk] coordinates {(1,15)(2,28)(3,80)(4,113)(5,112)(12,104)(20,89)(29,72)(30,86)(32,88)(33,135)(61,134)(62,168)};
\addplot[plr, draw=pcy] coordinates {(1,15)(2,28)(3,42)(4,55)(5,64)(12,49)(20,30)(29,8)(31,2)(33,-2)(34,-5)(36,36)(40,33)(50,25)(55,21)(61,20)(62,40)};

% expectations
\addplot[ex] coordinates {(1,112)(3,116)(5,120.5)(10,129)(13,134.3)(16,140)(20,147)(23,150.5)(27,155.5)(31,160)(36,165.8)(42,169.6)(47,171.6)(52.5,174)(55.5,176)(57.4,182.3)(59.3,186.2)(60.6,189.6)(62,190.2)};
\addplot[ex] coordinates {(1,15)(2,26)(3,60)(4,79)(5,85)(6,85)(10,77)(15,66)(20,54.5)(25,44)(29,34)(31,30.5)(32,45)(33,50)(34,53)(36,59.5)(38,59)(44,52)(50,46.8)(55,41.5)(57,39.4)(60,38.4)(61,38.4)(62,109)};
\end{axis}
\end{tikzpicture}
\end{document}
